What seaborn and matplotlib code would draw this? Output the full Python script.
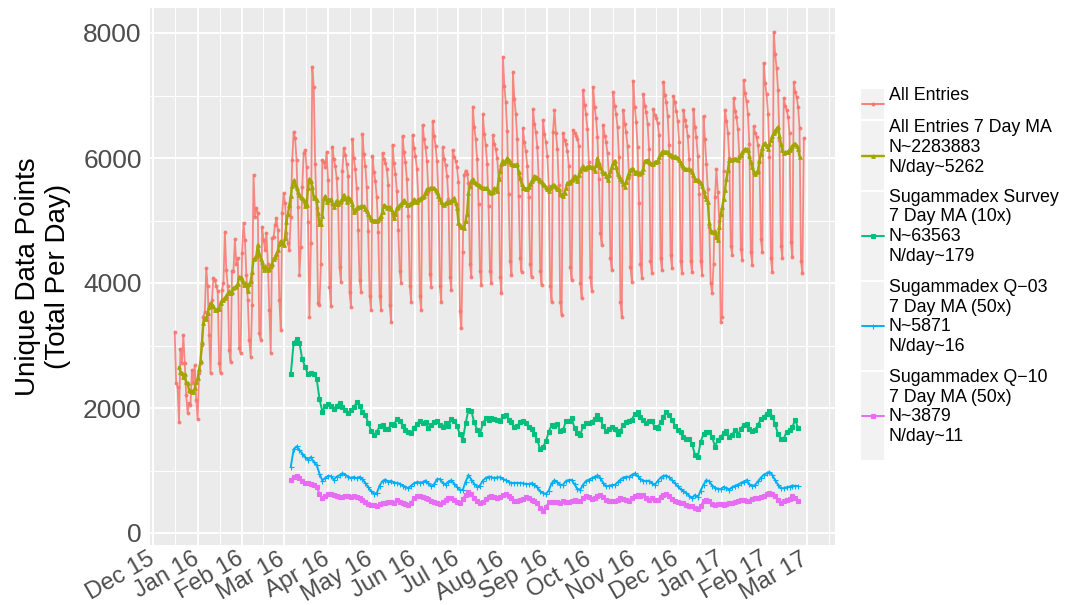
import pandas as pd
import matplotlib
matplotlib.use("Agg")
import matplotlib.pyplot as plt
import matplotlib.dates as mdates
import matplotlib.transforms as mtransforms
from matplotlib.ticker import FixedLocator
from matplotlib.patches import Rectangle
import seaborn as sns

# daily counts, first day Wed 16 Dec 2015, then one row per week (Mon..Sun)
all_entries = [
    3220, 2400, 2340, 1770, 2950,
    2720, 3170, 2720, 2210, 1920, 2080, 2050,
    2610, 2400, 2690, 2130, 1820, 2560, 2720,
    3010, 3460, 3540, 4240, 3950, 3170, 2560,
    3730, 4080, 4050, 3950, 3870, 2720, 2560,
    3890, 4000, 4820, 4210, 3950, 2930, 2740,
    4200, 4200, 4700, 4300, 4400, 2960, 2880,
    4480, 4960, 4690, 4130, 3730, 3090, 2820,
    3650, 5730, 5060, 5200, 5120, 3200, 3090,
    4900, 4690, 4530, 4800, 4300, 3570, 2880,
    4720, 4740, 4930, 5040, 4850, 3730, 3250,
    5120, 5440, 5280, 4800, 4640, 4530, 5060,
    5970, 6420, 6320, 5970, 5220, 4130, 4580,
    5540, 6080, 6130, 5860, 4980, 3460, 4640,
    7460, 7140, 5900, 5200, 3680, 3650, 4300,
    5970, 5940, 5860, 6100, 5650, 3940, 3630,
    6180, 5990, 5870, 5680, 5250, 4250, 4020,
    5800, 6160, 6050, 5900, 5720, 3850, 3620,
    6300, 6000, 5820, 5520, 4850, 4050, 3860,
    6380, 6060, 5870, 5540, 4830, 3800, 3570,
    6030, 5780, 5630, 5370, 4820, 3800, 3570,
    6080, 5980, 5920, 5820, 5570, 3650, 3380,
    6210, 5920, 5750, 5470, 4850, 4200, 4000,
    6350, 6090, 5930, 5660, 5070, 3950, 3700,
    6370, 6160, 6030, 5820, 5350, 3800, 3570,
    6530, 6300, 6170, 5950, 5460, 4150, 3940,
    6590, 6350, 6200, 5950, 5410, 3950, 3700,
    6170, 5990, 5890, 5720, 5340, 4100, 3890,
    6130, 6020, 5960, 5850, 5610, 3550, 3280,
    4500, 5730, 5800, 5750, 5600, 4300, 4100,
    6820, 6500, 6310, 5990, 5270, 4200, 3970,
    6700, 6390, 6210, 5910, 5230, 4200, 4000,
    6370, 6230, 6140, 6000, 5680, 4100, 3840,
    7620, 7160, 6890, 6430, 5420, 4350, 4130,
    7370, 6950, 6710, 6300, 5390, 4400, 4180,
    6480, 6250, 6110, 5880, 5380, 4300, 4100,
    6780, 6550, 6410, 6180, 5670, 4200, 3970,
    6610, 6390, 6260, 6040, 5550, 3950, 3700,
    6420, 6770, 6400, 6150, 5570, 3700, 3490,
    6400, 6290, 6220, 6110, 5880, 4250, 4050,
    6450, 6400, 6360, 6310, 6200, 4000, 3760,
    7090, 6850, 6700, 6460, 5940, 4100, 3880,
    7130, 6820, 6640, 6330, 5670, 4800, 4610,
    6530, 6360, 6260, 6080, 5710, 4400, 4210,
    7050, 6830, 6710, 6490, 6010, 3700, 3460,
    6770, 6550, 6410, 6190, 5710, 4250, 4020,
    7230, 6820, 6580, 6170, 5280, 4300, 4080,
    7020, 6840, 6730, 6550, 6140, 4350, 4160,
    6780, 6690, 6640, 6560, 6370, 4400, 4210,
    7220, 7010, 6890, 6680, 6210, 4450, 4240,
    6990, 6900, 6750, 6600, 6250, 4350, 4160,
    6770, 6610, 6510, 6350, 5980, 4350, 4170,
    6780, 6500, 6330, 6040, 5420, 4350, 4130,
    6670, 6300, 5900, 5500, 4890, 4000, 3840,
    4300, 5380, 5820, 5450, 5000, 3380, 3460,
    5800, 6770, 6600, 6400, 6000, 4600, 4450,
    6960, 6760, 6650, 6460, 6040, 4550, 4370,
    7250, 7040, 6910, 6700, 6220, 4500, 4290,
    6510, 6400, 6330, 6210, 5950, 4700, 4500,
    7520, 7200, 7020, 6710, 6020, 4400, 4180,
    8020, 7660, 7440, 7090, 6290, 4600, 4400,
    6960, 6840, 6770, 6660, 6400, 4650, 4420,
    7210, 7060, 6970, 6820, 6480, 4350, 4160,
    6320,
]
start_all = "2015-12-16"

# 7 day MA of the sugammadex series (already scaled), every 2nd day from 6 Mar 2016
survey_ma = [
    2544, 3045, 3100, 3045, 2779, 2661, 2540, 2555, 2550, 2470,
    2150, 1941, 2030, 2060, 2030, 1990, 2035, 2080, 2021, 1975,
    1925, 1965, 2015, 2090, 2030, 1940, 1895, 1760, 1640, 1570,
    1620, 1710, 1730, 1670, 1665, 1740, 1728, 1830, 1800, 1720,
    1650, 1612, 1595, 1680, 1750, 1795, 1755, 1778, 1685, 1730,
    1781, 1785, 1730, 1690, 1755, 1710, 1820, 1800, 1705, 1580,
    1490, 1755, 1970, 1950, 1770, 1655, 1585, 1755, 1835, 1815,
    1835, 1819, 1808, 1795, 1875, 1888, 1815, 1770, 1695, 1710,
    1780, 1795, 1755, 1695, 1660, 1580, 1488, 1340, 1380, 1465,
    1620, 1728, 1710, 1740, 1640, 1648, 1790, 1795, 1835, 1680,
    1600, 1575, 1710, 1757, 1768, 1781, 1830, 1895, 1830, 1705,
    1635, 1665, 1690, 1660, 1585, 1640, 1730, 1770, 1790, 1810,
    1910, 1935, 1855, 1805, 1757, 1795, 1790, 1690, 1680, 1770,
    1860, 1938, 1895, 1810, 1720, 1650, 1610, 1540, 1503, 1511,
    1430, 1248, 1210, 1460, 1585, 1610, 1620, 1540, 1381, 1495,
    1530, 1600, 1630, 1530, 1575, 1645, 1570, 1668, 1731, 1750,
    1665, 1628, 1655, 1730, 1822, 1855, 1910, 1955, 1860, 1740,
    1580, 1500, 1512, 1621, 1650, 1700, 1810, 1675,
]
q03_ma = [
    1061, 1340, 1385, 1330, 1270, 1210, 1172, 1215, 1138, 1090,
    950, 840, 880, 915, 905, 855, 901, 925, 955, 935,
    900, 880, 897, 875, 898, 862, 800, 735, 670, 630,
    640, 760, 830, 855, 821, 835, 808, 800, 790, 760,
    738, 715, 760, 795, 815, 808, 812, 840, 795, 748,
    780, 860, 862, 805, 775, 823, 845, 790, 735, 690,
    690, 820, 925, 855, 785, 740, 760, 840, 880, 900,
    892, 880, 890, 890, 865, 843, 820, 797, 803, 800,
    800, 795, 784, 784, 795, 772, 730, 665, 640, 625,
    680, 795, 845, 810, 765, 775, 830, 848, 848, 778,
    705, 695, 775, 830, 853, 876, 898, 922, 880, 800,
    745, 755, 768, 768, 810, 855, 888, 898, 898, 930,
    953, 912, 865, 835, 830, 837, 793, 770, 832, 885,
    915, 920, 890, 843, 797, 745, 700, 672, 640, 594,
    560, 608, 570, 680, 775, 845, 826, 760, 728, 705,
    700, 738, 717, 693, 733, 755, 775, 800, 823, 846,
    780, 750, 770, 825, 885, 932, 954, 977, 928, 845,
    775, 715, 717, 731, 740, 760, 752, 752,
]
q10_ma = [
    848, 903, 912, 880, 835, 808, 795, 790, 765, 742,
    630, 560, 595, 620, 628, 605, 592, 583, 574, 585,
    588, 584, 588, 571, 557, 535, 495, 462, 448, 445,
    432, 470, 482, 480, 490, 492, 485, 526, 503, 488,
    470, 455, 480, 565, 592, 592, 583, 560, 540, 518,
    498, 483, 465, 495, 522, 555, 565, 530, 498, 476,
    545, 615, 650, 625, 566, 520, 475, 498, 546, 580,
    587, 572, 557, 581, 605, 628, 600, 555, 520, 505,
    528, 550, 575, 555, 535, 520, 480, 400, 360, 420,
    490, 495, 490, 497, 486, 515, 490, 495, 514, 524,
    512, 505, 568, 600, 572, 540, 560, 590, 603, 573,
    535, 520, 508, 513, 535, 553, 539, 530, 520, 555,
    595, 602, 585, 607, 562, 535, 553, 530, 525, 577,
    606, 630, 585, 545, 512, 495, 483, 473, 446, 426,
    440, 405, 380, 440, 505, 532, 520, 470, 448, 472,
    467, 455, 465, 482, 478, 500, 515, 525, 522, 510,
    515, 542, 556, 565, 578, 595, 620, 640, 630, 590,
    530, 488, 505, 528, 537, 590, 560, 517,
]
start_sugam = "2016-03-06"

labels = [
    "All Entries",
    "All Entries 7 Day MA\nN~2283883\nN/day~5262",
    "Sugammadex Survey\n7 Day MA (10x)\nN~63563\nN/day~179",
    "Sugammadex Q\u221203\n7 Day MA (50x)\nN~5871\nN/day~16",
    "Sugammadex Q\u221210\n7 Day MA (50x)\nN~3879\nN/day~11",
]
colors = ["#F8766D", "#A3A500", "#00BF7D", "#00B0F6", "#E76BF3"]
markers = ["o", "^", "s", "+", "s"]
msizes = [2.0, 2.6, 2.6, 3.6, 2.6]
lwidths = [1.3, 1.7, 1.4, 1.4, 1.4]

sns.set_style("darkgrid", {"axes.facecolor": "#EBEBEB", "grid.color": "white"})
plt.rcParams["font.family"] = ["Liberation Sans", "DejaVu Sans"]

dates_all = pd.date_range(start_all, periods=len(all_entries), freq="D")
ma7 = pd.Series(all_entries).rolling(7, center=True).mean().values
dates_sug = pd.date_range(start_sugam, periods=len(survey_ma), freq="2D")

series = [
    (dates_all, all_entries),
    (dates_all, ma7),
    (dates_sug, survey_ma),
    (dates_sug, q03_ma),
    (dates_sug, q10_ma),
]

fig = plt.figure(figsize=(10.75, 6.05), dpi=100)
ax = fig.add_axes([150 / 1075, 1 - 545 / 605, 685 / 1075, 537 / 605])

for i, (x, y) in enumerate(series):
    sns.lineplot(x=x, y=y, ax=ax, color=colors[i], lw=lwidths[i],
                 marker=markers[i], markersize=msizes[i], mec=colors[i],
                 mew=0.8, alpha=0.85 if i == 0 else 1.0,
                 errorbar=None, legend=False)

ax.set_xlim(pd.Timestamp("2015-11-28 18:00"), pd.Timestamp("2017-03-20 18:00"))
ax.set_ylim(-192, 8400)

months = pd.date_range("2015-11-01", "2017-04-01", freq="MS")
mids = months[:-1] + (months[1:] - months[:-1]) / 2
ax.xaxis.set_major_locator(mdates.MonthLocator())
ax.xaxis.set_major_formatter(mdates.DateFormatter("%b %y"))
ax.xaxis.set_minor_locator(FixedLocator(mdates.date2num(mids)))
ax.set_yticks([0, 2000, 4000, 6000, 8000])
ax.yaxis.set_minor_locator(FixedLocator([1000, 3000, 5000, 7000]))

ax.grid(which="major", color="white", lw=1.4)
ax.grid(which="minor", color="white", lw=0.7)
ax.tick_params(which="major", length=4, width=1, color="#333333",
               labelcolor="#4D4D4D")
ax.tick_params(axis="y", labelsize=19, pad=2)
ax.tick_params(axis="x", labelsize=17, pad=1)
ax.tick_params(which="minor", length=0)
shift = mtransforms.ScaledTranslation(-6 / 100, 4 / 100, fig.dpi_scale_trans)
for lbl in ax.get_xticklabels():
    lbl.set_rotation(30)
    lbl.set_ha("right")
    lbl.set_rotation_mode("anchor")
    lbl.set_transform(lbl.get_transform() + shift)
for s in ax.spines.values():
    s.set_visible(False)

ax.set_xlabel("")
ax.set_ylabel("Unique Data Points\n(Total Per Day)", fontsize=20, color="black")
ax.yaxis.set_label_coords(-0.115, 0.5)

# legend drawn in pixel coordinates, ggplot style keys
lax = fig.add_axes([0, 0, 1, 1])
lax.set_xlim(0, 1075)
lax.set_ylim(605, 0)
lax.axis("off")
key_boxes = [(89, 119), (121, 190), (192, 280), (282, 370), (372, 460)]
text_y = [95, 147.5, 226.7, 317, 407]
for i, lab in enumerate(labels):
    top, bot = key_boxes[i]
    yc = (top + bot) / 2
    lax.add_patch(Rectangle((861, top), 23, bot - top, color="#F2F2F2", lw=0))
    lax.plot([862, 883.5], [yc, yc], color=colors[i], lw=lwidths[i])
    lax.plot([872.7], [yc], marker=markers[i], markersize=msizes[i],
             color=colors[i], mec=colors[i], mew=0.8)
    lax.text(889, text_y[i], lab, ha="left", va="center", fontsize=12.8,
             linespacing=1.2, color="black")

fig.savefig("out.png", dpi=100)
